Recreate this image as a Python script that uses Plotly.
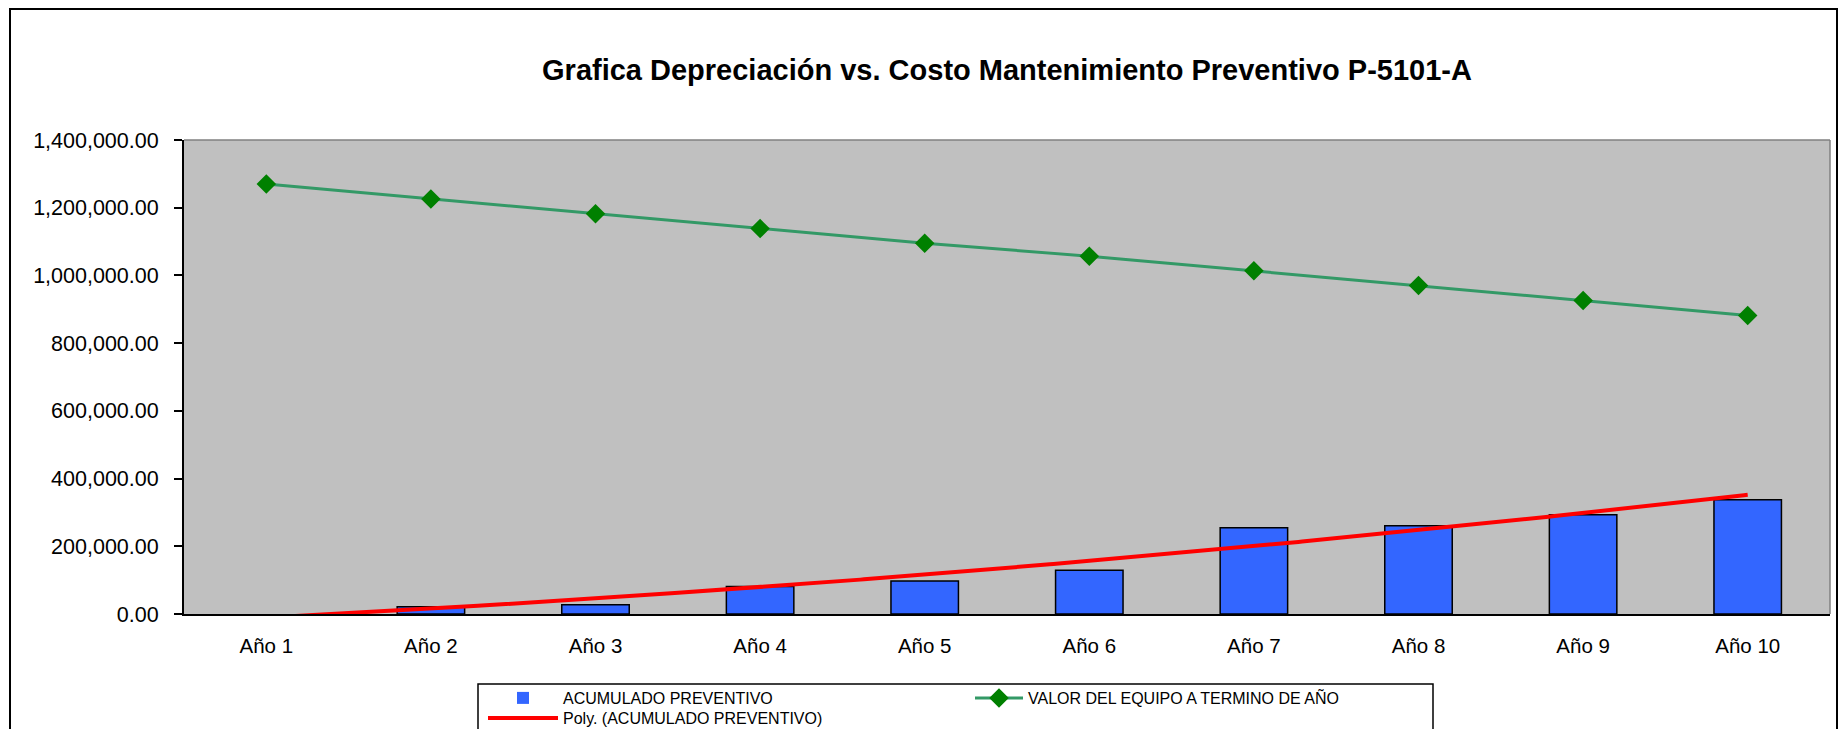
import numpy as np
import plotly.graph_objects as go

# --- data -------------------------------------------------------------
categories = ["Año 1", "Año 2", "Año 3", "Año 4", "Año 5",
              "Año 6", "Año 7", "Año 8", "Año 9", "Año 10"]
year_index = list(range(1, len(categories) + 1))

acumulado_preventivo = [0, 21500, 27500, 81500, 97500,
                        129000, 254500, 260500, 293000, 337500]
valor_equipo = [1270000, 1226000, 1182500, 1138500, 1095000,
                1057000, 1013500, 970000, 926000, 881500]

title_text = "Grafica Depreciación vs. Costo Mantenimiento Preventivo P-5101-A"

# second-order polynomial trendline of the accumulated preventive cost
coef = np.polyfit(year_index, acumulado_preventivo, 2)
trend_x = np.linspace(year_index[0], year_index[-1], 400)
trend_y = np.polyval(coef, trend_x)

FONT = "Liberation Sans, Arial, sans-serif"

fig = go.Figure()

# empty years get no outline so nothing is drawn on the axis
bar_outline = [1.5 if v > 0 else 0 for v in acumulado_preventivo]

fig.add_trace(go.Bar(
    x=year_index, y=acumulado_preventivo,
    name="ACUMULADO PREVENTIVO",
    marker=dict(color="#3366FF", line=dict(color="black", width=bar_outline)),
    width=0.41,
    legend="legend",
))
fig.add_trace(go.Scatter(
    x=year_index, y=valor_equipo,
    name="VALOR DEL EQUIPO A TERMINO DE AÑO",
    mode="lines+markers",
    line=dict(color="#339966", width=3),
    marker=dict(symbol="diamond", color="#008000", size=15,
                line=dict(width=0)),
    legend="legend2",
))
fig.add_trace(go.Scatter(
    x=trend_x, y=trend_y,
    name="Poly. (ACUMULADO PREVENTIVO)",
    mode="lines",
    line=dict(color="#FF0000", width=4),
    legend="legend3",
))

W, H = 1839, 729
ML, MR, MT, MB = 184, 9, 140, 115
pw, ph = W - ML - MR, H - MT - MB


def px_x(p):
    return (p - ML) / pw


def px_y(p):
    return (H - MB - p) / ph


# outer chart frame, legend frame and the grey top/right edge of the plot area
shapes = [
    dict(type="rect", xref="paper", yref="paper",
         x0=px_x(10), x1=px_x(1837), y0=px_y(760), y1=px_y(9),
         line=dict(color="black", width=2), fillcolor="rgba(0,0,0,0)",
         layer="above"),
    dict(type="rect", xref="paper", yref="paper",
         x0=px_x(478), x1=px_x(1433), y0=px_y(760), y1=px_y(684),
         line=dict(color="black", width=1.5), fillcolor="rgba(0,0,0,0)",
         layer="above"),
    dict(type="line", xref="paper", yref="paper",
         x0=0, x1=1, y0=1, y1=1, line=dict(color="#808080", width=1.5),
         layer="above"),
    dict(type="line", xref="paper", yref="paper",
         x0=1, x1=1, y0=0, y1=1, line=dict(color="#808080", width=1.5),
         layer="above"),
]

legend_font = dict(family=FONT, size=16, color="black")
legend_common = dict(xanchor="left", yanchor="top", orientation="v",
                     bgcolor="rgba(0,0,0,0)", borderwidth=0, font=legend_font)

boundary_ticks = dict(overlaying="x", matches="x", anchor="y", side="bottom",
                      tick0=0.5, dtick=1, tickmode="linear",
                      showticklabels=False, showline=False, showgrid=False,
                      zeroline=False, tickcolor="black", tickwidth=1.5)

fig.update_layout(
    width=W, height=H,
    margin=dict(l=ML, r=MR, t=MT, b=MB, autoexpand=False),
    paper_bgcolor="white",
    plot_bgcolor="#C0C0C0",
    font=dict(family=FONT, color="black"),
    title=dict(text="<b>" + title_text + "</b>",
               font=dict(family=FONT, size=29, color="black"),
               x=0.5, xref="paper", xanchor="center",
               y=1 - 70 / H, yref="container", yanchor="middle"),
    showlegend=True,
    legend=dict(x=px_x(483), y=px_y(681), itemwidth=70, **legend_common),
    legend2=dict(x=px_x(970), y=px_y(681), itemwidth=48, **legend_common),
    legend3=dict(x=px_x(483), y=px_y(701), itemwidth=70, **legend_common),
    xaxis=dict(range=[0.5, 10.5], tickmode="array", tickvals=year_index,
               ticktext=categories, ticks="", showgrid=False, zeroline=False,
               showline=True, linecolor="black", linewidth=2,
               tickfont=dict(family=FONT, size=20.5, color="black"),
               ticklabelstandoff=12),
    xaxis2=dict(ticks="outside", ticklen=8, **boundary_ticks),
    xaxis3=dict(ticks="inside", ticklen=7, **boundary_ticks),
    yaxis=dict(range=[0, 1400000], dtick=200000, tickformat=",.2f",
               ticks="outside", ticklen=8, tickwidth=1.5, tickcolor="black",
               showgrid=False, zeroline=False, showline=True,
               linecolor="black", linewidth=2,
               tickfont=dict(family=FONT, size=21.5, color="black"),
               ticklabelstandoff=11),
    shapes=shapes,
)

fig.write_html("out.html")
